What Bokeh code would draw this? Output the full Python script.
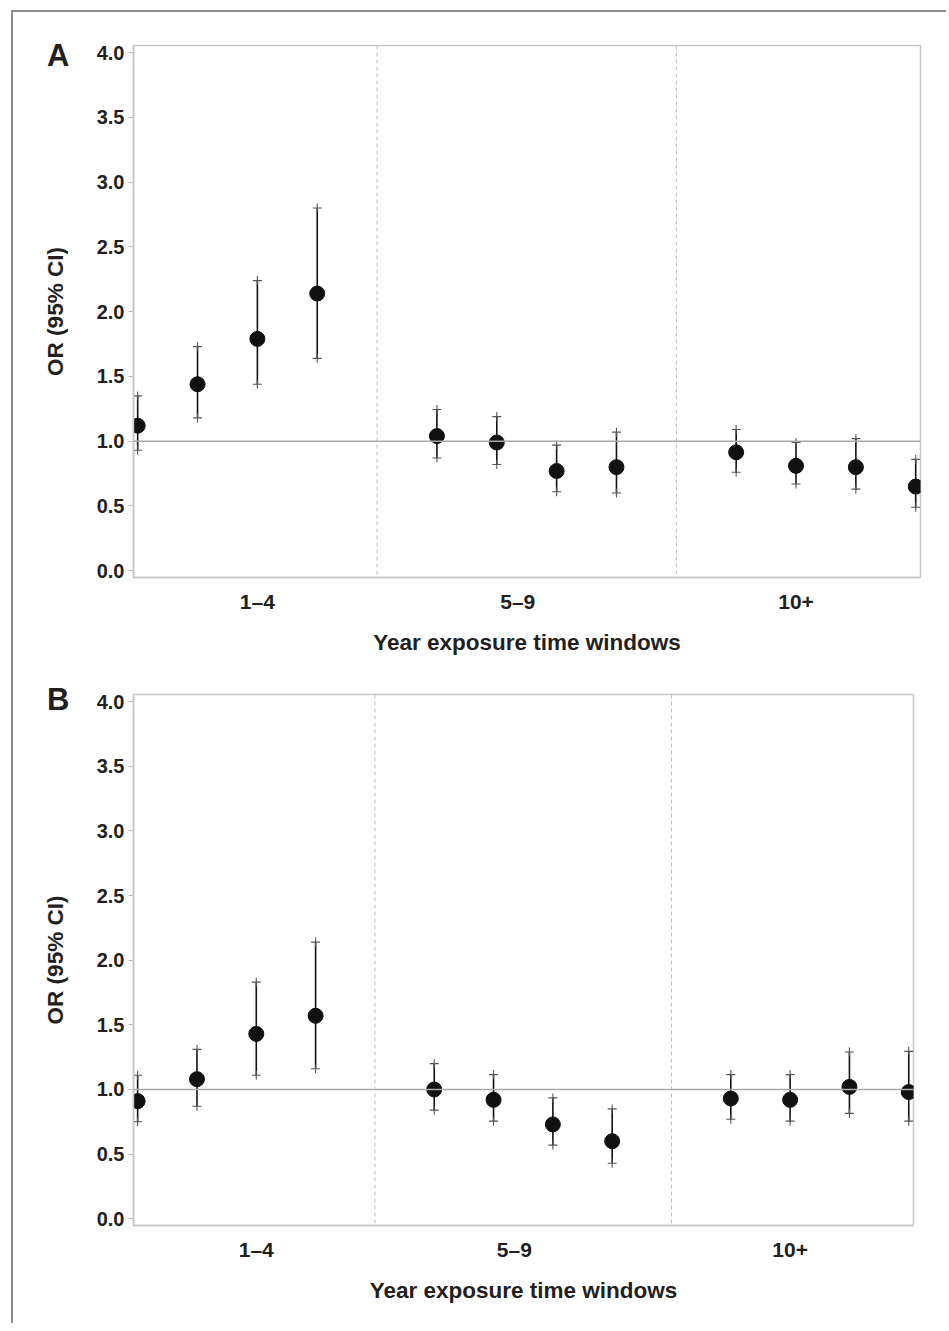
from bokeh.plotting import figure
from bokeh.models import Div, Spacer, Span, FixedTicker, NumeralTickFormatter, Range1d, LinearAxis
from bokeh.layouts import row, column
from bokeh.embed import file_html
from bokeh.resources import INLINE

# ---- data ----
windows = ["1–4", "5–9", "10+"]
levels_per_window = 4

a_or = [1.12, 1.44, 1.79, 2.14, 1.04, 0.99, 0.77, 0.80, 0.915, 0.81, 0.80, 0.65]
a_lo = [0.93, 1.18, 1.44, 1.64, 0.87, 0.82, 0.61, 0.60, 0.76, 0.67, 0.63, 0.49]
a_hi = [1.35, 1.73, 2.24, 2.80, 1.245, 1.19, 0.97, 1.07, 1.09, 0.99, 1.02, 0.86]

b_or = [0.91, 1.08, 1.43, 1.57, 1.00, 0.92, 0.73, 0.60, 0.93, 0.92, 1.02, 0.98]
b_lo = [0.75, 0.87, 1.11, 1.16, 0.84, 0.755, 0.57, 0.43, 0.77, 0.755, 0.815, 0.755]
b_hi = [1.11, 1.31, 1.83, 2.14, 1.20, 1.115, 0.935, 0.85, 1.115, 1.115, 1.29, 1.295]

y_ticks = [0.0, 0.5, 1.0, 1.5, 2.0, 2.5, 3.0, 3.5, 4.0]

FONT = "Liberation Sans"
TEXT = "#231f20"
GRAY = "#c8c8c8"

step = levels_per_window + 1
xs = [g * step + k for g in range(len(windows)) for k in range(levels_per_window)]
# label positions of window names as drawn in the reference
label_pos = [2, 6.35, 11]


def panel(letter, letter_y, orv, lo, hi, width, height, mbl, mbr, mbt, mbb):
    p = figure(width=width, height=height, output_backend="svg", toolbar_location=None,
               x_range=Range1d(-0.07, 13.08), y_range=Range1d(-0.052, 4.055),
               min_border_left=mbl, min_border_right=mbr, min_border_top=mbt,
               min_border_bottom=mbb)
    p.xgrid.visible = False
    p.ygrid.visible = False
    p.outline_line_color = GRAY
    p.outline_line_width = 1.5
    p.background_fill_color = "white"
    p.border_fill_color = "white"

    # separators
    for g in range(1, len(windows)):
        p.add_layout(Span(location=g * step - 1, dimension="height", line_color="#bdbdbd",
                          line_width=1, line_dash="4 3"))
    p.add_layout(Span(location=1.0, dimension="width", line_color="#aaaaaa", line_width=1.5))

    p.segment(x0=xs, y0=lo, x1=xs, y1=hi, line_color="#111111", line_width=1.6)
    p.scatter(x=xs + xs, y=lo + hi, marker="cross", size=9, line_color="#555555", line_width=1.1)
    p.scatter(x=xs, y=orv, marker="circle", size=15, fill_color="#111111", line_color="#111111")

    # primary y axis (ticks + numbers)
    ya = p.yaxis[0]
    ya.ticker = FixedTicker(ticks=y_ticks)
    ya.formatter = NumeralTickFormatter(format="0.0")
    ya.major_label_text_font = FONT
    ya.major_label_text_font_style = "bold"
    ya.major_label_text_font_size = "20px"
    ya.major_label_text_color = TEXT
    ya.major_label_standoff = 4
    ya.axis_line_color = GRAY
    ya.axis_line_width = 1.5
    ya.major_tick_line_color = "#bbbbbb"
    ya.major_tick_out = 5
    ya.major_tick_in = 0
    ya.minor_tick_line_color = None

    # outer axis carrying panel letter and the axis title
    ya2 = LinearAxis(ticker=FixedTicker(ticks=[letter_y]),
                     major_label_overrides={letter_y: letter})
    ya2.axis_line_color = None
    ya2.major_tick_line_color = None
    ya2.minor_tick_line_color = None
    ya2.major_label_text_font = FONT
    ya2.major_label_text_font_style = "bold"
    ya2.major_label_text_font_size = "31px"
    ya2.major_label_text_color = TEXT
    ya2.major_label_standoff = 18
    ya2.axis_label = "OR (95% CI)"
    ya2.axis_label_text_font = FONT
    ya2.axis_label_text_font_style = "bold"
    ya2.axis_label_text_font_size = "22.5px"
    ya2.axis_label_text_color = TEXT
    ya2.axis_label_standoff = -24
    p.add_layout(ya2, "left")

    xa = p.xaxis[0]
    xa.ticker = FixedTicker(ticks=label_pos)
    xa.major_label_overrides = {t: w for t, w in zip(label_pos, windows)}
    xa.axis_label = "Year exposure time windows"
    xa.axis_label_text_font = FONT
    xa.axis_label_text_font_style = "bold"
    xa.axis_label_text_font_size = "22.5px"
    xa.axis_label_text_color = TEXT
    xa.axis_label_standoff = 14
    xa.major_label_text_font = FONT
    xa.major_label_text_font_style = "bold"
    xa.major_label_text_font_size = "21px"
    xa.major_label_text_color = TEXT
    xa.major_label_standoff = 6
    xa.axis_line_color = GRAY
    xa.axis_line_width = 1.5
    xa.major_tick_line_color = None
    xa.minor_tick_line_color = None
    return p


pa = panel("A", 3.975, a_or, a_lo, a_hi, 933, 648, 120, 26, 33, 83)
pb = panel("B", 4.02, b_or, b_lo, b_hi, 933, 663, 120, 33, 34, 98)

BORDER = "#8c8c8c"
vbar = Div(text="", width=2, height=1313, margin=0, styles={"background-color": BORDER})
hbar = Div(text="", width=933, height=2, margin=0, styles={"background-color": BORDER})

layout = row(
    Spacer(width=11, height=10, margin=0),
    column(Spacer(width=2, height=10, margin=0), vbar, spacing=0),
    column(Spacer(width=933, height=10, margin=0), hbar, row(pa), row(pb), spacing=0),
    spacing=0,
)

open("out.html", "w").write(file_html(layout, INLINE))
